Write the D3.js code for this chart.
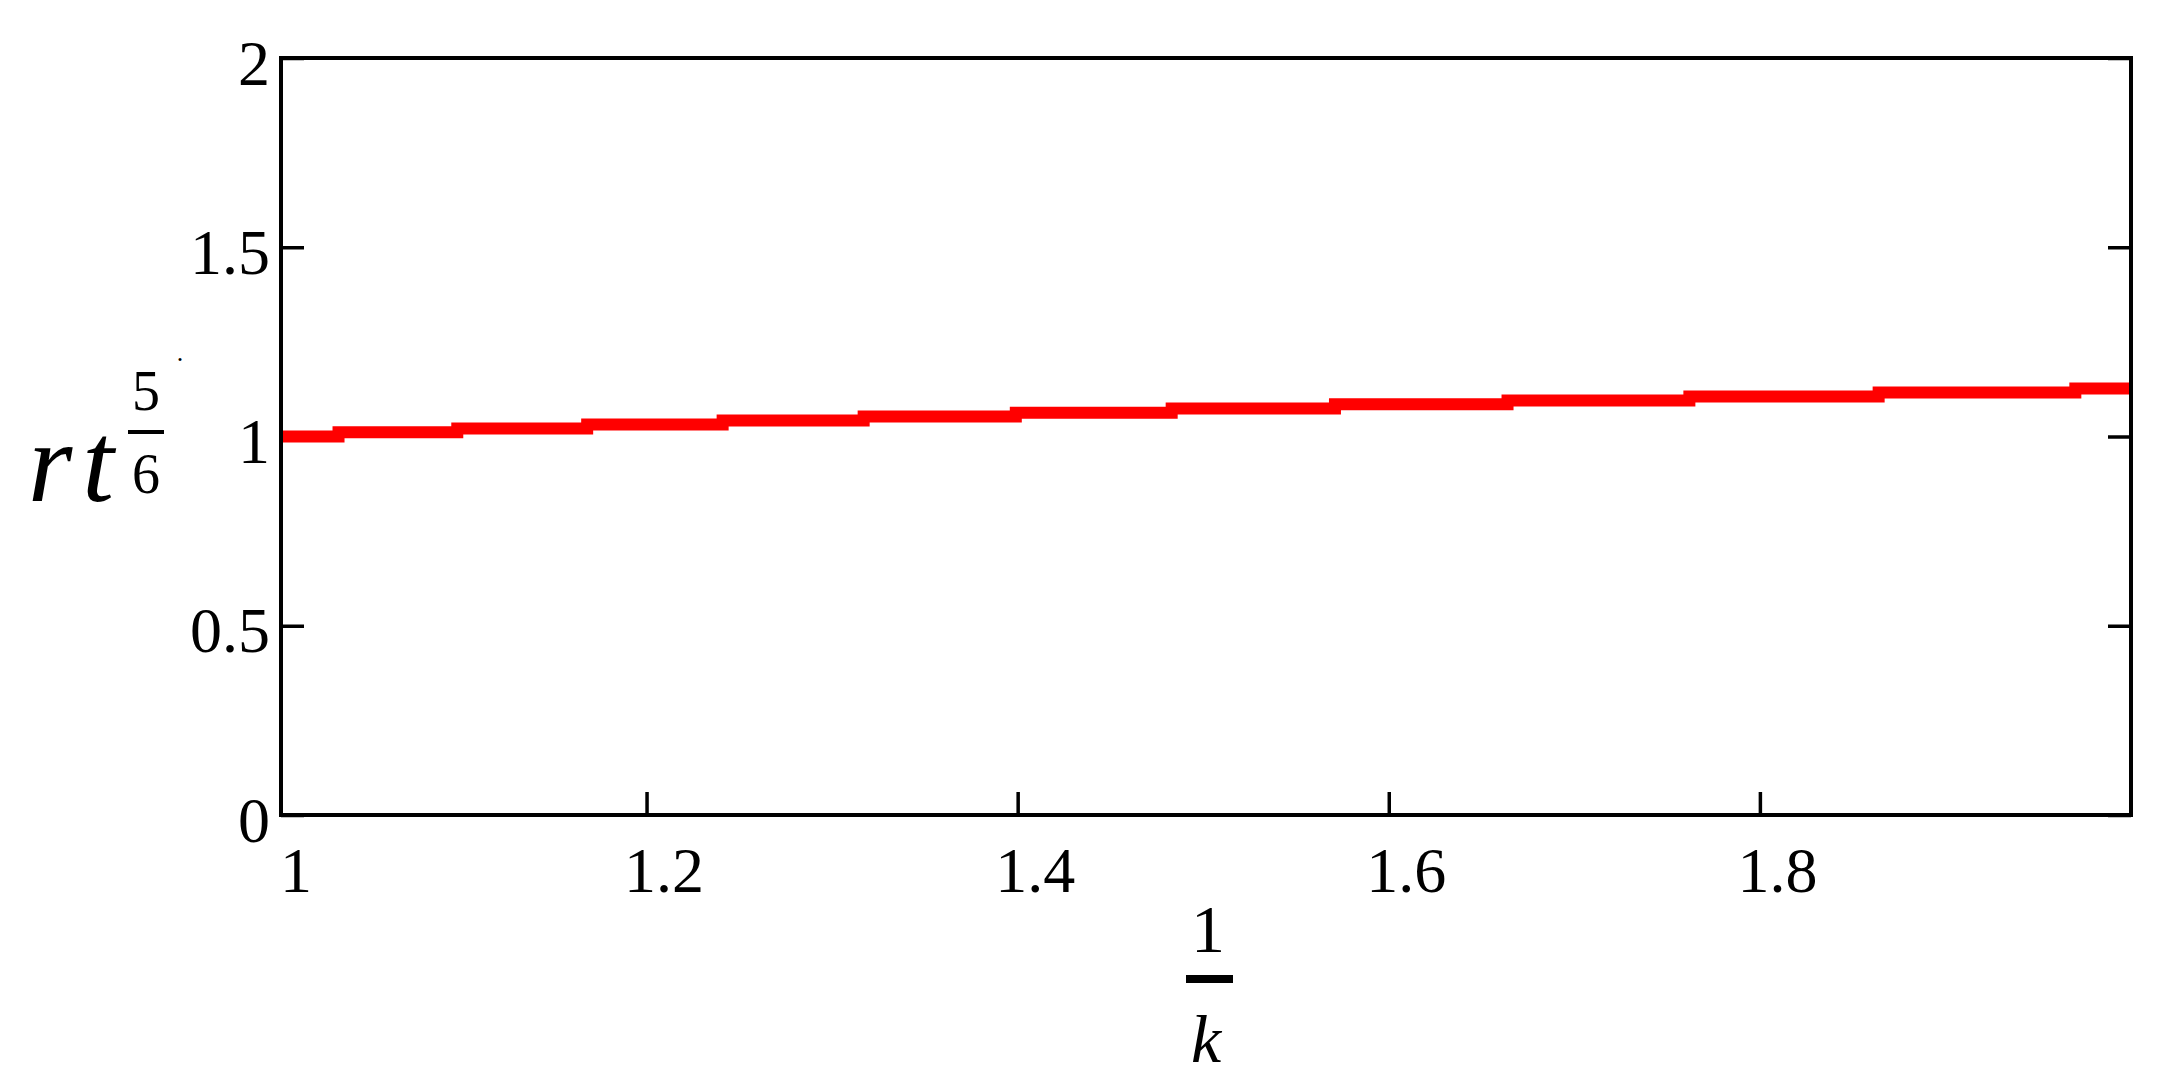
<!DOCTYPE html>
<html>
<head>
<meta charset="utf-8">
<script src="https://cdn.jsdelivr.net/npm/d3@7"></script>
<style>
  html, body { margin: 0; padding: 0; background: #fff; }
  svg { display: block; }
  .tick text { font-family: "Liberation Serif", "Times New Roman", serif; font-size: 64px; fill: #000; }
  .math { font-family: "Liberation Serif", "Times New Roman", serif; fill: #000; }
</style>
</head>
<body>
<div id="chart"></div>
<script>
// data (step plot, left edge of each step)
const stepX = [1.003, 1.034, 1.098, 1.168, 1.241, 1.317, 1.399, 1.483, 1.571, 1.664, 1.762, 1.864, 1.970, 2.0];
const stepY = [1.000, 1.011, 1.021, 1.032, 1.042, 1.053, 1.063, 1.074, 1.085, 1.095, 1.106, 1.116, 1.127, 1.127];

const xDomain = [1.003, 2];
const yDomain = [0, 2];
const xTicks = [1.2, 1.4, 1.6, 1.8];
const yTicks = [0, 0.5, 1, 1.5, 2];
const xLimitLabel = "1";

const width = 2173, height = 1089;
const margin = { top: 58, right: 42, bottom: 274, left: 281 };
const innerW = width - margin.left - margin.right;
const innerH = height - margin.top - margin.bottom;

const svg = d3.select("#chart")
  .append("svg")
  .attr("width", width)
  .attr("height", height);

const g = svg.append("g")
  .attr("transform", `translate(${margin.left}, ${margin.top})`);

const x = d3.scaleLinear().domain(xDomain).range([0, innerW]);
const y = d3.scaleLinear().domain(yDomain).range([innerH, 0]);

// y axis left (ticks inward)
const yAxisLeft = g.append("g")
  .call(d3.axisLeft(y).tickValues(yTicks).tickSizeInner(-23).tickSizeOuter(0).tickPadding(0)
    .tickFormat(d3.format("")));
yAxisLeft.select(".domain").remove();
yAxisLeft.selectAll(".tick line").attr("stroke", "#000").attr("stroke-width", 3.5);
yAxisLeft.selectAll(".tick text")
  .attr("x", -11)
  .attr("dy", 26)
  .attr("text-anchor", "end");

// y axis right, no labels
const yAxisRight = g.append("g")
  .attr("transform", `translate(${innerW}, 0)`)
  .call(d3.axisRight(y).tickValues(yTicks).tickSizeInner(-23).tickSizeOuter(0).tickFormat(""));
yAxisRight.select(".domain").remove();
yAxisRight.selectAll(".tick line").attr("stroke", "#000").attr("stroke-width", 3.5);

// x axis bottom
const xAxis = g.append("g")
  .attr("transform", `translate(0, ${innerH})`)
  .call(d3.axisBottom(x).tickValues(xTicks).tickSizeInner(-23).tickSizeOuter(0).tickPadding(0)
    .tickFormat(d3.format("")));
xAxis.select(".domain").remove();
xAxis.selectAll(".tick line").attr("stroke", "#000").attr("stroke-width", 3.5);
xAxis.selectAll(".tick text")
  .attr("text-anchor", "start")
  .attr("x", -23)
  .attr("y", 0)
  .attr("dy", 77);

// axis limit label at the left end
g.append("text")
  .attr("class", "math")
  .attr("x", x(xDomain[0]) - 1)
  .attr("y", innerH + 77)
  .attr("font-size", 64)
  .text(xLimitLabel);

// the curve
const line = d3.line()
  .x(function (d, i) { return x(stepX[i]); })
  .y(function (d) { return y(d); })
  .curve(d3.curveStepAfter);

g.append("path")
  .datum(stepY)
  .attr("d", line)
  .attr("fill", "none")
  .attr("stroke", "#ff0000")
  .attr("stroke-width", 12);

// frame
g.append("rect")
  .attr("x", 0)
  .attr("y", 0)
  .attr("width", innerW)
  .attr("height", innerH)
  .attr("fill", "none")
  .attr("stroke", "#000")
  .attr("stroke-width", 4);

// x title: 1 / k
const xt = svg.append("g").attr("class", "math").attr("text-anchor", "middle");
xt.append("text").attr("x", 1208).attr("y", 952).attr("font-size", 68).text("1");
xt.append("rect").attr("x", 1186).attr("y", 975).attr("width", 47).attr("height", 8).attr("fill", "#000");
xt.append("text").attr("x", 1206).attr("y", 1062).attr("font-size", 68).attr("font-style", "italic").text("k");

// y title: rt^(5/6)
const yt = svg.append("g").attr("class", "math");
yt.append("text").attr("x", 28).attr("y", 501).attr("font-size", 114)
  .attr("font-style", "italic").attr("letter-spacing", 10).text("rt");
yt.append("text").attr("x", 146).attr("y", 410).attr("font-size", 56).attr("text-anchor", "middle").text("5");
yt.append("rect").attr("x", 128).attr("y", 430).attr("width", 36).attr("height", 4).attr("fill", "#000");
yt.append("text").attr("x", 146).attr("y", 493).attr("font-size", 56).attr("text-anchor", "middle").text("6");
yt.append("text").attr("x", 180).attr("y", 361).attr("font-size", 26).attr("text-anchor", "middle").text(".");
</script>
</body>
</html>
